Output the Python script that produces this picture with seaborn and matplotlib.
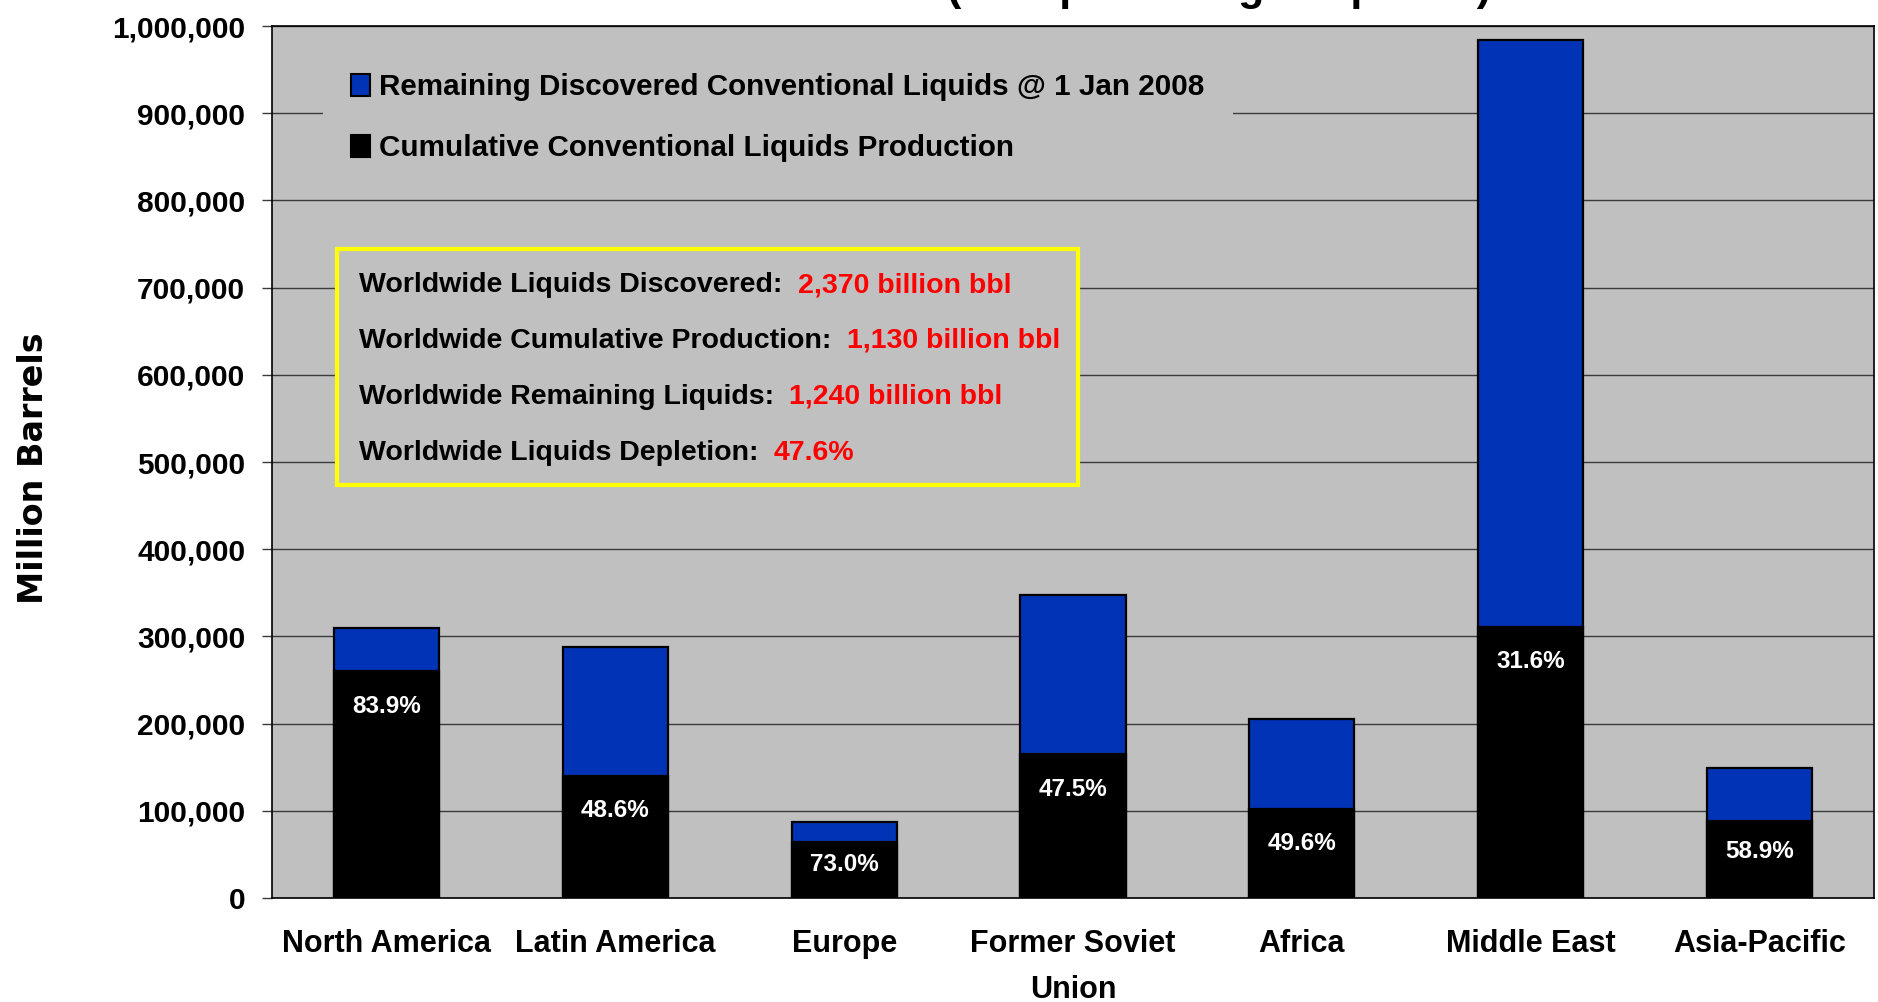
import matplotlib
matplotlib.use("Agg")
import matplotlib.pyplot as plt
from matplotlib.patches import Patch, Rectangle
from matplotlib.ticker import FuncFormatter, MultipleLocator
import seaborn as sns
import pandas as pd

# Conventional liquids by region (million barrels)
regions = ["North America", "Latin America", "Europe", "Former Soviet\nUnion",
           "Africa", "Middle East", "Asia-Pacific"]
cumulative_production = [260000, 140000, 64000, 165000, 102000, 311000, 88000]
remaining_discovered = [50000, 148000, 23700, 182400, 103600, 673000, 61400]

series_labels = ["Remaining Discovered Conventional Liquids @ 1 Jan 2008",
                 "Cumulative Conventional Liquids Production"]
title_text = "(with percentage depleted)"
y_label = "Million Barrels"

BLUE = "#0033B5"
GRAY = "#C0C0C0"

df = pd.DataFrame({"region": regions,
                   "produced": cumulative_production,
                   "remaining": remaining_discovered})
df["discovered"] = df["produced"] + df["remaining"]
df["depletion"] = 100 * df["produced"] / df["discovered"]

sns.set_style("ticks")
plt.rcParams["font.family"] = ["Liberation Sans", "DejaVu Sans"]
plt.rcParams["font.weight"] = "bold"
for key in ("text.color", "axes.labelcolor", "xtick.labelcolor",
            "ytick.labelcolor", "legend.labelcolor"):
    plt.rcParams[key] = "black"

W, H = 1878, 1002
fig = plt.figure(figsize=(W / 100, H / 100), dpi=100)
fig.patch.set_facecolor("white")
ax = fig.add_axes([272 / W, 1 - 898 / H, (1874 - 272) / W, (898 - 26) / H])
ax.set_facecolor(GRAY)

# Total discovered (blue) with cumulative production (black) drawn over it
sns.barplot(data=df, x="region", y="discovered", color=BLUE, saturation=1,
            width=0.46, edgecolor="black", linewidth=1.6, errorbar=None,
            ax=ax, zorder=2)
sns.barplot(data=df, x="region", y="produced", color="black", saturation=1,
            width=0.46, edgecolor="black", linewidth=1.6, errorbar=None,
            ax=ax, zorder=3)

ax.set_ylim(0, 1000000)
ax.set_xlim(-0.5, len(regions) - 0.5)
ax.yaxis.set_major_locator(MultipleLocator(100000))
ax.yaxis.set_major_formatter(FuncFormatter(lambda v, p: f"{v:,.0f}"))
ax.grid(axis="y", color="#3a3a3a", linewidth=1.0, zorder=1)
ax.set_axisbelow(True)
ax.set_xlabel("")
ax.set_ylabel("")
for s in ax.spines.values():
    s.set_visible(True)
    s.set_color("black")
    s.set_linewidth(1.2)

ax.tick_params(axis="y", length=7.2, width=1.0, color="#3a3a3a", pad=12,
               labelsize=21.5, labelcolor="black")
ax.tick_params(axis="x", length=0, pad=22.5, labelsize=22, labelcolor="black")
for lab in ax.get_yticklabels() + ax.get_xticklabels():
    lab.set_fontweight("bold")
for lab in ax.get_xticklabels():
    lab.set_linespacing(1.7)

# Depletion percentage inside each production bar
for i, row in df.iterrows():
    y = max(row["produced"] - 40000, row["produced"] * 0.6)
    ax.text(i, y, f"{row['depletion']:.1f}%", ha="center", va="center",
            color="white", fontsize=17.5, fontweight="bold", zorder=5)

# Legend
handles = [Patch(facecolor=BLUE, edgecolor="black", linewidth=1.5),
           Patch(facecolor="black", edgecolor="black", linewidth=1.5)]
leg = ax.legend(handles, series_labels, loc="upper left",
                bbox_to_anchor=(323 / W, 1 - 45 / H),
                bbox_transform=fig.transFigure, frameon=True,
                facecolor=GRAY, edgecolor="none", framealpha=1,
                fancybox=False, handlelength=0.65, handleheight=0.75,
                handletextpad=0.3, labelspacing=1.12, borderpad=0.95,
                borderaxespad=0, labelcolor="black",
                prop={"size": 21.3, "weight": "bold"})

# Worldwide summary box
total_disc = df["discovered"].sum() / 1000
total_prod = df["produced"].sum() / 1000
total_rem = df["remaining"].sum() / 1000
world_depl = 100 * total_prod / total_disc

def bbl(v):
    return f"{int(round(v, -1)):,} billion bbl"

summary = [("Worldwide Liquids Discovered:", bbl(total_disc)),
           ("Worldwide Cumulative Production:", bbl(total_prod)),
           ("Worldwide Remaining Liquids:", bbl(total_rem)),
           ("Worldwide Liquids Depletion:", f"{world_depl:.1f}%")]

box = Rectangle((337 / W, 1 - 485 / H), (1078 - 337) / W, (485 - 249) / H,
                transform=fig.transFigure, facecolor=GRAY,
                edgecolor="#FFFF00", linewidth=3, zorder=6, clip_on=False)
ax.add_patch(box)
for k, (lbl, val) in enumerate(summary):
    yc = 285 + k * 56
    t = ax.text(359 / W, 1 - yc / H, lbl, transform=fig.transFigure,
                ha="left", va="center", fontsize=20.5, fontweight="bold",
                color="black", zorder=7, clip_on=False)
    ax.annotate(val, xy=(1, 0), xycoords=t, xytext=(11, 0),
                textcoords="offset points", ha="left", va="bottom",
                fontsize=20.5, fontweight="bold", color="red",
                annotation_clip=False, zorder=7)

# Axis title and the heading line along the top edge
fig.text(34 / W, 1 - 468 / H, y_label, rotation=90, ha="center", va="center",
         fontsize=24, fontweight="bold", family=["DejaVu Sans"], color="black")
fig.text(1219 / W, 1.0, title_text, ha="center", va="baseline",
         fontsize=31, fontweight="bold", color="black")

fig.savefig("out.png", dpi=100)
